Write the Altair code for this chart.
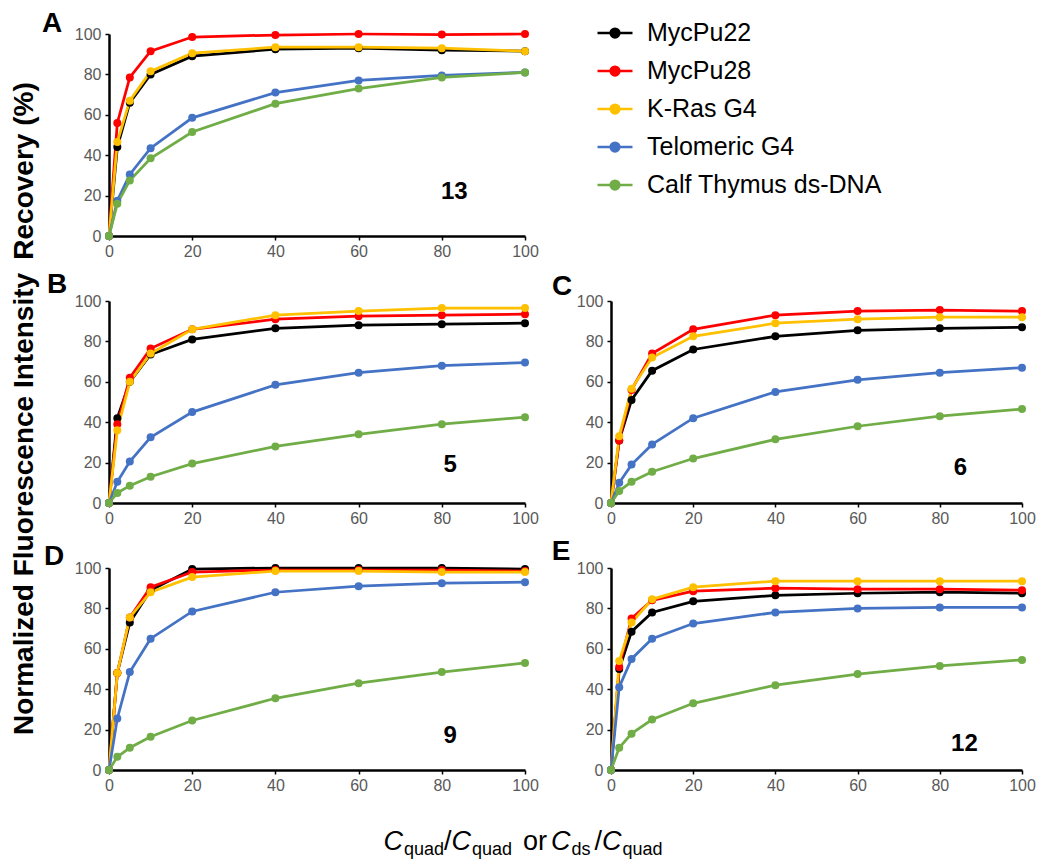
import altair as alt
import pandas as pd

FONT = "Liberation Sans"

# ---------------- data ----------------
x_vals = [0, 2, 5, 10, 20, 40, 60, 80, 100]
series_names = ["MycPu22", "MycPu28", "K-Ras G4", "Telomeric G4", "Calf Thymus ds-DNA"]
series_colors = ["#000000", "#FF0000", "#FFC000", "#4472C4", "#70AD47"]
panel_letters = ["A", "B", "C", "D", "E"]
compound_labels = ["13", "5", "6", "9", "12"]
x_ticks = [0, 20, 40, 60, 80, 100]
y_ticks = [0, 20, 40, 60, 80, 100]
y_title_top = "Recovery (%)"
y_title_bottom = "Normalized Fluorescence Intensity"

# panel A (13)
a_mycpu22 = [0, 44, 66, 80, 89, 92.5, 93, 92, 91.5]
a_mycpu28 = [0, 56, 78.5, 91.5, 98.5, 99.5, 100, 99.7, 100]
a_kras = [0, 46.5, 67, 81.5, 90.5, 93.5, 93.5, 93, 91.5]
a_telo = [0, 17.5, 30.5, 43.5, 58.5, 71, 77, 79.5, 81]
a_calf = [0, 16, 27.5, 38.5, 51.5, 65.5, 73, 78.5, 81]
# panel B (5)
b_mycpu22 = [0, 42, 60, 73.5, 81, 86.5, 88, 88.5, 89]
b_mycpu28 = [0, 39, 62, 76.5, 86, 91, 92.5, 93, 93.5]
b_kras = [0, 36, 60, 74, 86, 93, 95, 96.5, 96.5]
b_telo = [0, 10.5, 20.5, 32.5, 45, 58.5, 64.5, 68, 69.5]
b_calf = [0, 5, 8.5, 13, 19.5, 28, 34, 39, 42.5]
# panel C (6)
c_mycpu22 = [0, 31, 51, 65.5, 76, 82.5, 85.5, 86.5, 87]
c_mycpu28 = [0, 31, 56, 74, 86, 93, 95, 95.5, 95]
c_kras = [0, 33, 56.5, 72, 82.5, 89, 91, 92, 92]
c_telo = [0, 10, 19, 29, 42, 55, 61, 64.5, 67]
c_calf = [0, 6, 10.5, 15.5, 22, 31.5, 38, 43, 46.5]
# panel D (9)
d_mycpu22 = [0, 48, 73, 89, 99.5, 100, 100, 100, 99.5]
d_mycpu28 = [0, 48, 75.5, 90.5, 98, 99, 99, 99, 98.5]
d_kras = [0, 48, 75.5, 88, 95.5, 98.5, 98.5, 98, 98]
d_telo = [0, 25.5, 48.5, 65, 78.5, 88, 91, 92.5, 93]
d_calf = [0, 6.5, 11, 16.5, 24.5, 35.5, 43, 48.5, 53]
# panel E (12)
e_mycpu22 = [0, 50, 68.5, 78, 83.5, 86.5, 87.5, 88, 87.5]
e_mycpu28 = [0, 51, 75, 84, 88.5, 90, 89.5, 89.5, 89]
e_kras = [0, 54, 73, 84.5, 90.5, 93.5, 93.5, 93.5, 93.5]
e_telo = [0, 41, 55, 65, 72.5, 78, 80, 80.5, 80.5]
e_calf = [0, 11, 18, 25, 33, 42, 47.5, 51.5, 54.5]

panel_series = [
    [a_mycpu22, a_mycpu28, a_kras, a_telo, a_calf],
    [b_mycpu22, b_mycpu28, b_kras, b_telo, b_calf],
    [c_mycpu22, c_mycpu28, c_kras, c_telo, c_calf],
    [d_mycpu22, d_mycpu28, d_kras, d_telo, d_calf],
    [e_mycpu22, e_mycpu28, e_kras, e_telo, e_calf],
]

# compound label anchors (data units)
label_anchor_x = [83, 82, 85, 82, 86]
label_anchor_y = [22, 19, 17.5, 17, 13]

# ---------------- styling ----------------
LEFT_W, RIGHT_W, H = 416, 411, 202
SYMBOL = "M-1,0L1,0M-0.25,0A0.25,0.25,0,1,0,0.25,0A0.25,0.25,0,1,0,-0.25,0"
letter_off_x = [-57, -52, -49, -55, -50]
letter_off_y = [-2, -8, -6, -3, -8]

legend = alt.Legend(
    title=None, orient="none", legendX=487, legendY=-20,
    symbolType=SYMBOL, symbolSize=1225, symbolStrokeWidth=2.5,
    labelFontSize=25, labelFont=FONT, labelColor="black", labelOffset=13,
    rowPadding=6, padding=0, labelLimit=400, symbolOpacity=1,
)

axis_common = dict(
    title=None, grid=False, domainColor="black", domainWidth=2.5,
    tickColor="black", tickWidth=1.5, tickSize=4, labelColor="#595959",
    labelFontSize=16, labelFont=FONT, labelFlush=False,
)


def text_piece(t, x, y, **kw):
    return alt.Chart(pd.DataFrame({"t": [t]})).mark_text(
        font=FONT, color="black", **kw).encode(
        x=alt.value(x), y=alt.value(y), text="t:N")


def make_panel(idx, width):
    rows = []
    for name, vals in zip(series_names, panel_series[idx]):
        for xv, yv in zip(x_vals, vals):
            rows.append({"series": name, "x": xv, "value": yv})
    df = pd.DataFrame(rows)
    xenc = alt.X("x:Q", scale=alt.Scale(domain=[0, 100], nice=False),
                 axis=alt.Axis(values=x_ticks, labelPadding=3, **axis_common))
    yenc = alt.Y("value:Q", scale=alt.Scale(domain=[0, 100], nice=False),
                 axis=alt.Axis(values=y_ticks, labelPadding=4, **axis_common))
    color = alt.Color("series:N", sort=series_names,
                      scale=alt.Scale(domain=series_names, range=series_colors),
                      legend=legend)
    lines = alt.Chart(df).mark_line(strokeWidth=2.75).encode(
        x=xenc, y=yenc, color=color, order="x:Q")
    points = alt.Chart(df).mark_point(filled=True, size=64, opacity=1).encode(
        x=xenc, y=yenc, color=color)
    letter = text_piece(panel_letters[idx], letter_off_x[idx], letter_off_y[idx],
                        fontSize=28, fontWeight="bold", align="center",
                        baseline="alphabetic")
    num = alt.Chart(pd.DataFrame({"t": [compound_labels[idx]],
                                  "x": [label_anchor_x[idx]],
                                  "y": [label_anchor_y[idx]]})).mark_text(
        font=FONT, fontSize=24, fontWeight="bold", align="center",
        baseline="middle", color="black").encode(
        x="x:Q", y="y:Q", text="t:N")
    layers = [lines, points, letter, num]
    if idx == 0:
        layers.append(text_piece(y_title_top, -84, 137, fontSize=28,
                                 fontWeight="bold", angle=270, align="center",
                                 baseline="middle"))
    if idx == 1:
        layers.append(text_piece(y_title_bottom, -84, 203, fontSize=28,
                                 fontWeight="bold", angle=270, align="center",
                                 baseline="middle"))
    if idx == 3:
        # x-axis title built from styled pieces: (text, style, size, baseline shift, gap before)
        pieces = [("C", "italic", 27, 0, 0), ("quad", "normal", 18, 5, 1),
                  ("/", "normal", 27, 0, 0), ("C", "italic", 27, 0, 0),
                  ("quad", "normal", 18, 5, 1), ("or", "normal", 27, 0, 11),
                  ("C", "italic", 27, 0, 4), ("ds", "normal", 18, 5, 1),
                  ("/", "normal", 27, 0, 4), ("C", "italic", 27, 0, 0),
                  ("quad", "normal", 18, 5, 1)]
        cw = {"C": 0.722, "q": 0.556, "u": 0.556, "a": 0.556, "d": 0.556,
              "/": 0.278, "o": 0.556, "r": 0.333, "s": 0.5}
        widths = [sum(cw[ch] for ch in t) * fs for t, _, fs, _, _ in pieces]
        total = sum(widths) + sum(p[4] for p in pieces)
        cur = (522 - 108) - total / 2
        for (t, style, fs, dy, gap), w in zip(pieces, widths):
            cur += gap
            layers.append(text_piece(t, cur, 282 + dy, fontSize=fs,
                                     fontStyle=style, align="left",
                                     baseline="alphabetic"))
            cur += w
    return alt.layer(*layers).properties(width=width, height=H)


pA = make_panel(0, LEFT_W)
pB = make_panel(1, LEFT_W)
pC = make_panel(2, RIGHT_W)
pD = make_panel(3, LEFT_W)
pE = make_panel(4, RIGHT_W)
blank = alt.Chart(pd.DataFrame({"x": []})).mark_point(opacity=0).properties(
    width=RIGHT_W, height=H)

chart = alt.concat(pA, blank, pB, pC, pD, pE, columns=2,
                   spacing={"row": 65, "column": 86}, bounds="flush").properties(
    padding={"left": 2, "top": 2, "right": 5, "bottom": 0},
    background="white",
).configure_view(stroke=None)

chart.save("out.html", embed_options={"renderer": "svg", "actions": False})
